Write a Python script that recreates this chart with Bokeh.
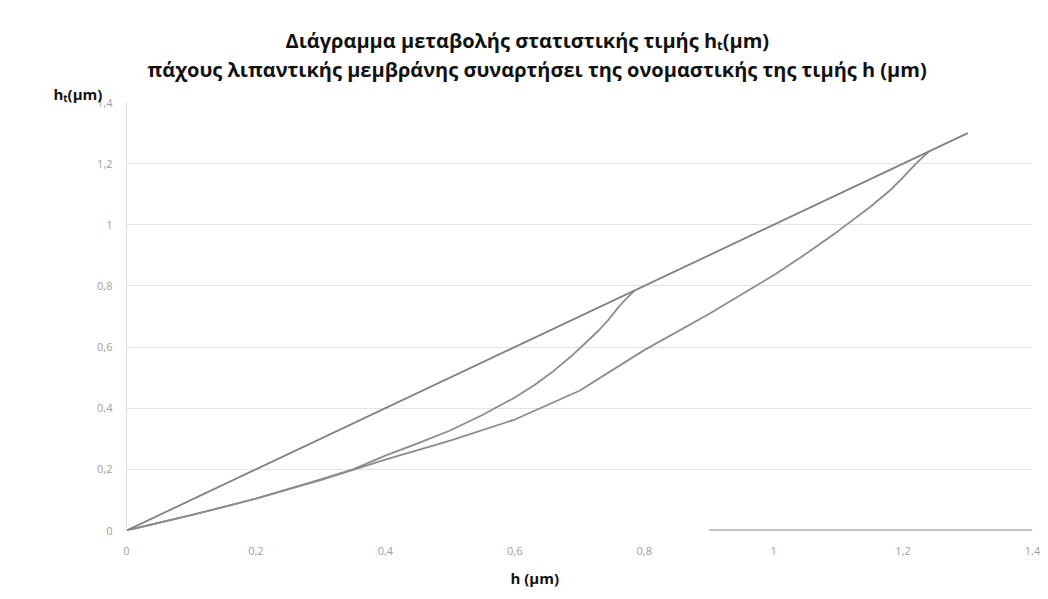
from bokeh.plotting import figure
from bokeh.models import Title, FixedTicker, CustomJSTickFormatter, Range1d
from bokeh.embed import file_html
from bokeh.resources import INLINE

# ---- data ----
h_diag = [0.0, 1.3]
hT_diag = [0.0, 1.3]

h_mid = [0.0, 0.1, 0.2, 0.3, 0.35, 0.4, 0.45, 0.5, 0.55, 0.6, 0.63, 0.66, 0.69, 0.71, 0.73, 0.745, 0.76, 0.772, 0.785]
hT_mid = [0.0, 0.05, 0.104, 0.167, 0.2, 0.245, 0.285, 0.327, 0.378, 0.435, 0.475, 0.522, 0.575, 0.615, 0.655, 0.69, 0.73, 0.758, 0.785]

h_low = [0.0, 0.1, 0.2, 0.3, 0.4, 0.5, 0.6, 0.7, 0.8, 0.9, 1.0, 1.05, 1.1, 1.15, 1.18, 1.2, 1.22, 1.24]
hT_low = [0.0, 0.05, 0.104, 0.165, 0.232, 0.294, 0.363, 0.457, 0.59, 0.708, 0.835, 0.905, 0.98, 1.06, 1.113, 1.155, 1.2, 1.24]

h_zero = [0.9, 1.4]
hT_zero = [0.0, 0.0]

ticks = [0, 0.2, 0.4, 0.6, 0.8, 1.0, 1.2, 1.4]

title1 = "Διάγραμμα μεταβολής στατιστικής τιμής hₜ(μm)"
title2 = "πάχους λιπαντικής μεμβράνης συναρτήσει της ονομαστικής της τιμής h (μm)"
ylabel = "hₜ(μm)"
xlabel = "h (μm)"

p = figure(width=1040, height=598, output_backend="svg", toolbar_location=None,
           x_range=Range1d(0, 1.4), y_range=Range1d(0, 1.4),
           min_border_left=126, min_border_right=8, min_border_top=102, min_border_bottom=68)

p.outline_line_color = None
p.background_fill_color = "white"
p.border_fill_color = "white"

fmt = CustomJSTickFormatter(code="return (Math.round(tick*10)/10).toString().replace('.', ',');")
for ax in (p.xaxis[0], p.yaxis[0]):
    ax.ticker = FixedTicker(ticks=ticks)
    ax.formatter = fmt
    ax.major_tick_line_color = None
    ax.minor_tick_line_color = None
    ax.major_label_text_color = "#a0a0a0"
    ax.major_label_text_font = "Open Sans"
    ax.major_label_text_font_size = "11px"
p.xaxis.axis_line_color = None
p.yaxis.axis_line_color = "#e0e0e0"
p.xaxis.major_label_standoff = 10
p.yaxis.major_label_standoff = 8

p.xgrid.grid_line_color = None
p.ygrid.ticker = FixedTicker(ticks=ticks)
p.ygrid.grid_line_color = "#e3e3e3"

col = "#8c8c8c"
p.line(h_zero, hT_zero, line_color="#8a8a8a", line_width=2.2)
p.line(h_low, hT_low, line_color=col, line_width=1.8)
p.line(h_mid, hT_mid, line_color=col, line_width=1.8)
p.line(h_diag, hT_diag, line_color="#808080", line_width=1.8)

p.add_layout(Title(text=xlabel, align="left", offset=384, text_font="Open Sans",
                   text_font_style="bold", text_font_size="15px", text_color="#111111",
                   standoff=17), "below")

p.add_layout(Title(text=ylabel, align="left", offset=-73, text_font="Open Sans",
                   text_font_style="bold", text_font_size="15px", text_color="#111111",
                   standoff=-2), "above")
p.add_layout(Title(text=title2, align="left", offset=21, text_font="Open Sans",
                   text_font_style="bold", text_font_size="20px", text_color="#111111",
                   standoff=0), "above")
p.add_layout(Title(text=title1, align="left", offset=159, text_font="Open Sans",
                   text_font_style="bold", text_font_size="20px", text_color="#111111",
                   standoff=0), "above")

open("out.html", "w").write(file_html(p, INLINE))
